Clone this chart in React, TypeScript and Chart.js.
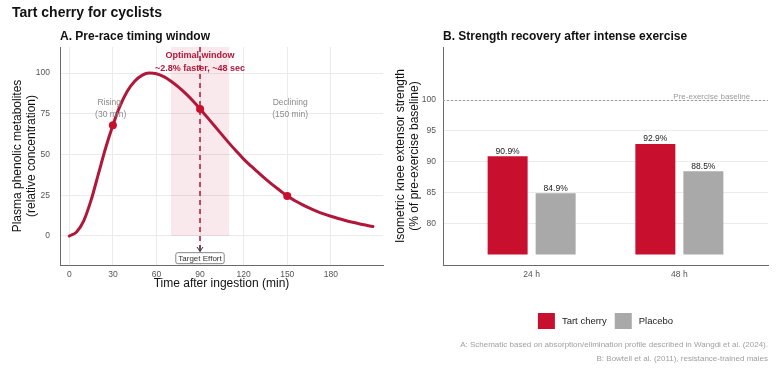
import React, { useEffect, useRef } from 'react';
import { Chart, registerables } from 'chart.js';

Chart.register(...registerables);

const FONT = '"Liberation Sans", Arial, Helvetica, sans-serif';
Chart.defaults.font.family = FONT;

// ---- Panel A: plasma phenolic metabolites after ingestion ----
const timeMin = [
  0, 5, 10, 15, 20, 25, 30, 35, 40, 45, 50, 55, 60, 65, 70, 75, 80, 85, 90, 95, 100, 105,
  110, 115, 120, 125, 130, 135, 140, 145, 150, 155, 160, 165, 170, 175, 180, 185, 190, 195,
  200, 205, 209,
];
const concentration = [
  0, 2.5, 9.5, 22, 38, 54, 68, 80, 89, 95, 98.6, 100, 99.6, 97.8, 95, 91.5, 87.5, 83, 78,
  72.8, 67.5, 62.2, 57, 52, 47.2, 43, 39, 35, 31.4, 27.9, 24.5, 21.8, 19.4, 17.2, 15.3, 13.6,
  12.1, 10.7, 9.5, 8.4, 7.4, 6.5, 5.8,
];
const markerTimes = [30, 90, 150];
const markerValues = [68, 78, 24.5];
const timeTicks = [0, 30, 60, 90, 120, 150, 180];
const concentrationTicks = [0, 25, 50, 75, 100];
const optimalWindow = [70, 110];
const targetTime = 90;

// ---- Panel B: strength recovery ----
const timepoints = ['24 h', '48 h'];
const groups = ['Tart cherry', 'Placebo'];
const tartCherry = [90.9, 92.9];
const placebo = [84.9, 88.5];
const strengthTicks = [80, 85, 90, 95, 100];
const baselineValue = 100;
const barBase = 75;

const captions = [
  'A: Schematic based on absorption/elimination profile described in Wangdi et al. (2024).',
  'B: Bowtell et al. (2011), resistance-trained males',
];

const CURVE = '#b0173a';
const POINT = '#c8102e';
const RED = '#c8102e';
const GREY = '#a9a9a9';
const GRID = '#ebebeb';
const AXIS = '#6a6a6a';
const TICK = '#555555';

const panelAPlugin = {
  id: 'panelA',
  beforeDatasetsDraw(chart: any) {
    const { ctx, chartArea, scales } = chart;
    const x = scales.x;
    const y = scales.y;
    ctx.save();
    // optimal window band
    const x0 = x.getPixelForValue(optimalWindow[0]);
    const x1 = x.getPixelForValue(optimalWindow[1]);
    const yZero = y.getPixelForValue(0);
    ctx.fillStyle = 'rgba(200, 16, 46, 0.09)';
    ctx.fillRect(x0, chartArea.top, x1 - x0, yZero - chartArea.top);
    // target effort dashed line
    const xt = Math.round(x.getPixelForValue(targetTime));
    const yEnd = y.getPixelForValue(-9.5);
    ctx.strokeStyle = CURVE;
    ctx.lineWidth = 1.5;
    ctx.setLineDash([5, 4]);
    ctx.beginPath();
    ctx.moveTo(xt, chartArea.top);
    ctx.lineTo(xt, yEnd - 1);
    ctx.stroke();
    ctx.setLineDash([]);
    ctx.restore();
  },
  afterDraw(chart: any) {
    const { ctx, chartArea, scales } = chart;
    const x = scales.x;
    const y = scales.y;
    ctx.save();
    // titles
    ctx.fillStyle = '#111';
    ctx.textAlign = 'left';
    ctx.textBaseline = 'alphabetic';
    ctx.font = `bold 14px ${FONT}`;
    ctx.fillText('Tart cherry for cyclists', 12, 17);
    ctx.font = `bold 12px ${FONT}`;
    ctx.fillText('A. Pre-race timing window', chartArea.left, 40);

    // arrow head to target effort label
    const xt = Math.round(x.getPixelForValue(targetTime));
    const yEnd = y.getPixelForValue(-9.5);
    ctx.strokeStyle = '#333';
    ctx.lineWidth = 1;
    ctx.beginPath();
    ctx.moveTo(xt, yEnd - 6);
    ctx.lineTo(xt, yEnd);
    ctx.moveTo(xt - 3, yEnd - 4.5);
    ctx.lineTo(xt, yEnd);
    ctx.lineTo(xt + 3, yEnd - 4.5);
    ctx.stroke();

    // target effort label
    ctx.font = `8px ${FONT}`;
    const label = 'Target Effort';
    const w = ctx.measureText(label).width + 5;
    const h = 11;
    const cy = y.getPixelForValue(-13.6);
    ctx.fillStyle = '#fff';
    ctx.strokeStyle = '#555';
    ctx.lineWidth = 0.7;
    ctx.beginPath();
    (ctx as any).roundRect(xt - w / 2, cy - h / 2, w, h, 2);
    ctx.fill();
    ctx.stroke();
    ctx.fillStyle = '#333';
    ctx.textAlign = 'center';
    ctx.textBaseline = 'middle';
    ctx.fillText(label, xt, cy + 0.5);

    // optimal window text
    ctx.fillStyle = CURVE;
    ctx.font = `bold 9px ${FONT}`;
    ctx.fillText('Optimal window', xt, y.getPixelForValue(111));
    ctx.fillText('~2.8% faster, ~48 sec', xt, y.getPixelForValue(103));

    // phase labels
    ctx.fillStyle = '#8a8a8a';
    ctx.font = `8.5px ${FONT}`;
    ctx.fillText('Rising', x.getPixelForValue(27.5), y.getPixelForValue(82));
    ctx.fillText('(30 min)', x.getPixelForValue(28.5), y.getPixelForValue(74.6));
    ctx.fillText('Declining', x.getPixelForValue(152), y.getPixelForValue(82));
    ctx.fillText('(150 min)', x.getPixelForValue(152), y.getPixelForValue(74.6));
    ctx.restore();
  },
};

const panelBPlugin = {
  id: 'panelB',
  beforeDatasetsDraw(chart: any) {
    const { ctx, chartArea, scales } = chart;
    const yb = Math.round(scales.y.getPixelForValue(baselineValue)) + 0.5;
    ctx.save();
    ctx.strokeStyle = '#9a9a9a';
    ctx.lineWidth = 1;
    ctx.setLineDash([2, 2]);
    ctx.beginPath();
    ctx.moveTo(chartArea.left, yb);
    ctx.lineTo(chartArea.right, yb);
    ctx.stroke();
    ctx.setLineDash([]);
    ctx.fillStyle = '#9a9a9a';
    ctx.font = `8px ${FONT}`;
    ctx.textAlign = 'right';
    ctx.textBaseline = 'alphabetic';
    ctx.fillText('Pre-exercise baseline', scales.x.getPixelForValue(2.48), yb - 2);
    ctx.restore();
  },
  afterDatasetsDraw(chart: any) {
    const { ctx } = chart;
    ctx.save();
    ctx.fillStyle = '#1a1a1a';
    ctx.font = `8.5px ${FONT}`;
    ctx.textAlign = 'center';
    ctx.textBaseline = 'alphabetic';
    chart.data.datasets.forEach((ds: any, di: number) => {
      const meta = chart.getDatasetMeta(di);
      meta.data.forEach((bar: any, i: number) => {
        ctx.fillText(`${ds.data[i].y.toFixed(1)}%`, bar.x, bar.y - 2.5);
      });
    });
    ctx.restore();
  },
  afterDraw(chart: any) {
    const { ctx, chartArea } = chart;
    ctx.save();
    ctx.fillStyle = '#111';
    ctx.font = `bold 12px ${FONT}`;
    ctx.textAlign = 'left';
    ctx.textBaseline = 'alphabetic';
    ctx.fillText('B. Strength recovery after intense exercise', chartArea.left, 40);

    // legend
    ctx.font = `9.5px ${FONT}`;
    ctx.textBaseline = 'middle';
    const box = 17;
    const gapText = 7;
    const gapItem = 8;
    const items = chart.data.datasets.map((ds: any) => ({
      label: ds.label,
      color: ds.backgroundColor,
      w: ctx.measureText(ds.label).width,
    }));
    const total =
      items.reduce((s: number, it: any) => s + box + gapText + it.w, 0) + gapItem * (items.length - 1);
    let lx = (chartArea.left + chartArea.right) / 2 - total / 2;
    const ly = 321;
    items.forEach((it: any) => {
      ctx.fillStyle = it.color;
      ctx.fillRect(lx, ly - 8, box, 16);
      ctx.fillStyle = '#222';
      ctx.fillText(it.label, lx + box + gapText, ly);
      lx += box + gapText + it.w + gapItem;
    });

    // source notes
    ctx.fillStyle = '#a0a0a0';
    ctx.font = `8px ${FONT}`;
    ctx.textAlign = 'right';
    ctx.fillText(captions[0], chartArea.right, 345);
    ctx.fillText(captions[1], chartArea.right, 359);
    ctx.restore();
  },
};

export default function App() {
  const leftRef = useRef<HTMLCanvasElement>(null);
  const rightRef = useRef<HTMLCanvasElement>(null);

  useEffect(() => {
    const left = new Chart(leftRef.current as HTMLCanvasElement, {
      type: 'line',
      data: {
        datasets: [
          {
            data: markerTimes.map((t, i) => ({ x: t, y: markerValues[i] })),
            showLine: false,
            pointRadius: 4,
            pointBackgroundColor: POINT,
            pointBorderWidth: 0,
            order: 1,
          } as any,
          {
            data: timeMin.map((t, i) => ({ x: t, y: concentration[i] })),
            borderColor: CURVE,
            borderWidth: 3,
            borderCapStyle: 'round',
            borderJoinStyle: 'round',
            pointRadius: 0,
            cubicInterpolationMode: 'monotone',
            fill: false,
            order: 2,
          } as any,
        ],
      },
      options: {
        animation: false,
        responsive: false,
        events: [],
        layout: { padding: { top: 47, right: 7, left: 0, bottom: 0 } },
        plugins: { legend: { display: false }, tooltip: { enabled: false }, title: { display: false } },
        scales: {
          x: {
            type: 'linear',
            min: -6.4,
            max: 215.9,
            afterBuildTicks: (s: any) => {
              s.ticks = timeTicks.map((v) => ({ value: v }));
            },
            afterFit: (s: any) => {
              s.height = 35;
            },
            grid: { color: GRID, drawTicks: false },
            border: { color: AXIS, width: 1 },
            ticks: { color: TICK, font: { size: 8.5 }, padding: 5, maxRotation: 0 },
            title: {
              display: true,
              text: 'Time after ingestion (min)',
              color: '#111',
              font: { size: 12 },
              padding: { top: 0, bottom: 9 },
            },
          },
          y: {
            type: 'linear',
            min: -17.8,
            max: 116,
            afterBuildTicks: (s: any) => {
              s.ticks = concentrationTicks.map((v) => ({ value: v }));
            },
            afterFit: (s: any) => {
              s.width = 60;
            },
            grid: { color: GRID, drawTicks: false },
            border: { color: AXIS, width: 1 },
            ticks: { color: TICK, font: { size: 8.5 }, padding: 10 },
            title: {
              display: true,
              text: ['Plasma phenolic metabolites', '(relative concentration)'],
              color: '#111',
              font: { size: 12, lineHeight: 1.1 },
              padding: { top: 11.4, bottom: 0 },
            },
          },
        },
      } as any,
      plugins: [panelAPlugin],
    });

    const right = new Chart(rightRef.current as HTMLCanvasElement, {
      type: 'bar',
      data: {
        datasets: [
          {
            label: groups[0],
            data: timepoints.map((_, i) => ({ x: i + 1, y: tartCherry[i] })),
            backgroundColor: RED,
            base: barBase,
            categoryPercentage: 0.65,
            barPercentage: 0.833,
          } as any,
          {
            label: groups[1],
            data: timepoints.map((_, i) => ({ x: i + 1, y: placebo[i] })),
            backgroundColor: GREY,
            base: barBase,
            categoryPercentage: 0.65,
            barPercentage: 0.833,
          } as any,
        ],
      },
      options: {
        animation: false,
        responsive: false,
        events: [],
        layout: { padding: { top: 47, right: 12, left: 0, bottom: 0 } },
        plugins: { legend: { display: false }, tooltip: { enabled: false }, title: { display: false } },
        scales: {
          x: {
            type: 'linear',
            min: 0.4,
            max: 2.6,
            offset: false,
            afterBuildTicks: (s: any) => {
              s.ticks = timepoints.map((_, i) => ({ value: i + 1 }));
            },
            afterFit: (s: any) => {
              s.height = 110;
            },
            grid: { display: false, drawTicks: false, offset: false },
            border: { display: true, color: AXIS, width: 1 },
            ticks: {
              color: TICK,
              font: { size: 8.5 },
              padding: 5,
              maxRotation: 0,
              callback: (v: any) => timepoints[Math.round(v) - 1] ?? '',
            },
          },
          y: {
            type: 'linear',
            min: 73.3,
            max: 108.6,
            afterBuildTicks: (s: any) => {
              s.ticks = strengthTicks.map((v) => ({ value: v }));
            },
            afterFit: (s: any) => {
              s.width = 53;
            },
            grid: { color: GRID, drawTicks: false },
            border: { color: AXIS, width: 1 },
            ticks: { color: TICK, font: { size: 8.5 }, padding: 7 },
            title: {
              display: true,
              text: ['Isometric knee extensor strength', '(% of pre-exercise baseline)'],
              color: '#111',
              font: { size: 12, lineHeight: 1.1 },
              padding: { top: 4.4, bottom: 0 },
            },
          },
        },
      } as any,
      plugins: [panelBPlugin],
    });

    return () => {
      left.destroy();
      right.destroy();
    };
  }, []);

  return (
    <div
      style={{
        position: 'fixed',
        left: 0,
        top: 0,
        width: 780,
        height: 375,
        background: '#fff',
        overflow: 'hidden',
      }}
    >
      <canvas
        ref={leftRef}
        width={390}
        height={300}
        style={{ position: 'absolute', left: 0, top: 0, width: 390, height: 300 }}
      />
      <canvas
        ref={rightRef}
        width={390}
        height={375}
        style={{ position: 'absolute', left: 390, top: 0, width: 390, height: 375 }}
      />
    </div>
  );
}
